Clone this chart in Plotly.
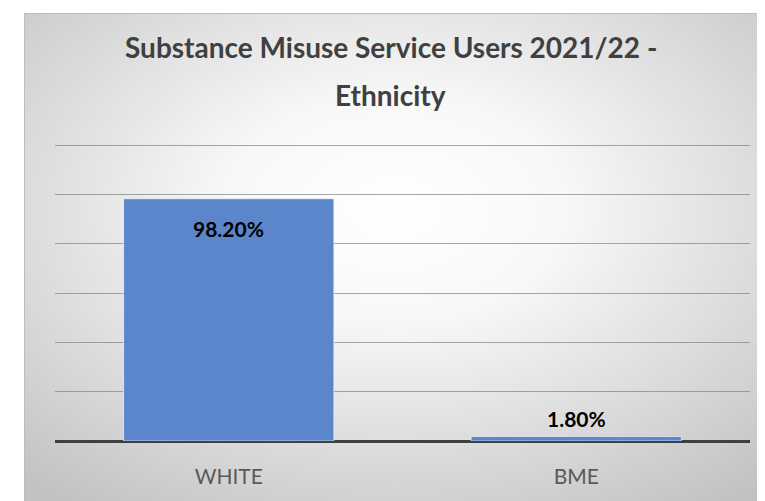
import base64
import plotly.graph_objects as go

categories = ["WHITE", "BME"]
values = [0.982, 0.018]
title_lines = ["Substance Misuse Service Users 2021/22 -", "Ethnicity"]

# page body has an 8px margin; lay out in reference pixels offset by 8
OFF = 8
W, H = 765 - OFF, 501 - OFF
BASE, TOPGRID = 441, 145          # reference pixel rows for 0% and 120%
ML, MR, MT, MB = 55 - OFF, 15, 135, 60
pw, ph = W - ML - MR, H - MT - MB
unit = (BASE - TOPGRID) / 1.2
ymax = ph / unit

svg = '''<svg xmlns="http://www.w3.org/2000/svg" width="741" height="488" viewBox="0 0 741 488" preserveAspectRatio="none">
<defs><radialGradient id="g" cx="50%" cy="40%" r="75%" fx="50%" fy="40%">
<stop offset="0%" stop-color="#ffffff"/><stop offset="30%" stop-color="#f8f8f8"/><stop offset="100%" stop-color="#c2c2c2"/>
</radialGradient></defs>
<rect x="0" y="0" width="741" height="488" fill="url(#g)"/>
<line x1="0" y1="0.5" x2="741" y2="0.5" stroke="#bdbdbd" stroke-width="1"/>
<line x1="0.5" y1="0" x2="0.5" y2="488" stroke="#bdbdbd" stroke-width="1"/>
</svg>'''
src = "data:image/svg+xml;base64," + base64.b64encode(svg.encode()).decode()

def px_x(x):
    return (x - OFF - ML) / pw

def px_y(y):
    return (H - MB - (y - OFF)) / ph

FONT = "Lato, Calibri, sans-serif"

fig = go.Figure()
fig.add_trace(go.Bar(
    x=categories, y=values,
    marker=dict(color="#5b86cc", line=dict(color="rgba(255,255,255,0.6)", width=1)),
    width=0.605, hoverinfo="skip",
))

ann = []
for c, v in zip(categories, values):
    txt = f"<b>{v*100:.2f}%</b>"
    if v > 0.5:
        ann.append(dict(x=c, y=v, xref="x", yref="y", text=txt, showarrow=False,
                        yanchor="top", yshift=-15, font=dict(family=FONT, size=21, color="#000000")))
    else:
        ann.append(dict(x=c, y=v, xref="x", yref="y", text=txt, showarrow=False,
                        yanchor="bottom", yshift=4, font=dict(family=FONT, size=21, color="#000000")))

for ln, yc in zip(title_lines, [47, 95]):
    ann.append(dict(x=px_x((24 + 765) / 2 - 4), xref="paper", y=px_y(yc), yref="paper",
                    text=f"<b>{ln}</b>", showarrow=False, xanchor="center", yanchor="middle",
                    font=dict(family=FONT, size=28, color="#404040")))

fig.update_layout(
    width=W, height=H,
    margin=dict(l=ML, r=MR, t=MT, b=MB),
    paper_bgcolor="white", plot_bgcolor="rgba(0,0,0,0)",
    showlegend=False,
    annotations=ann,
    images=[dict(source=src, xref="paper", yref="paper",
                 x=px_x(24), y=px_y(13), sizex=(765 - 24) / pw, sizey=(501 - 13) / ph,
                 xanchor="left", yanchor="top", sizing="stretch", layer="below")],
    xaxis=dict(showgrid=False, zeroline=False, showline=False, ticks="",
               tickfont=dict(family=FONT, size=21, color="#595959"),
               ticklabelstandoff=21),
    yaxis=dict(range=[0, ymax], tickvals=[0.2, 0.4, 0.6, 0.8, 1.0, 1.2], showticklabels=False,
               showgrid=True, gridcolor="rgba(130,130,130,0.7)", gridwidth=1, zeroline=True,
               zerolinecolor="#404040", zerolinewidth=3, showline=False),
)
fig.write_html("out.html")
